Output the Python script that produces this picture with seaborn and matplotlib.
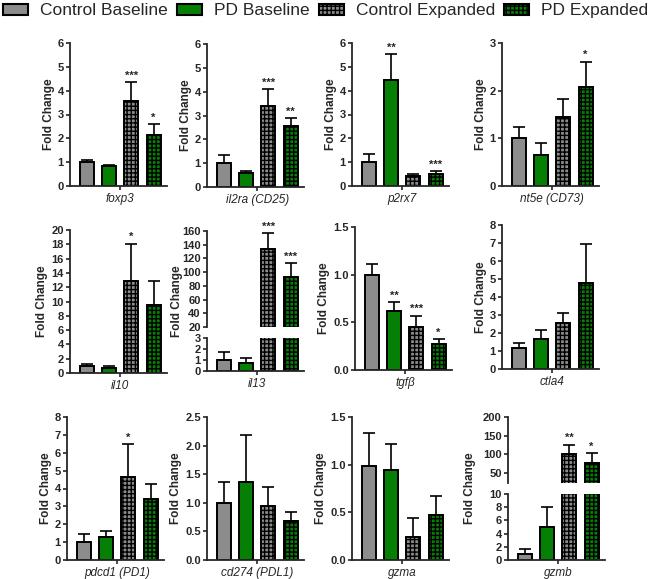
import matplotlib
matplotlib.use('Agg')
import matplotlib.pyplot as plt
from matplotlib.patches import Patch
from matplotlib.ticker import FormatStrFormatter
import numpy as np
import pandas as pd
import seaborn as sns

# groups and colours
groups = ['Control Baseline', 'PD Baseline', 'Control Expanded', 'PD Expanded']
colors = ['#8c8c8c', '#058005', '#8c8c8c', '#058005']
hatches = ['', '', '++++', '++++']

# fold change (mean), upper error (SEM) and significance per gene
foxp3 = [1.0, 0.82, 3.57, 2.12]
foxp3_err = [0.1, 0.08, 0.78, 0.48]
foxp3_sig = ['', '', '***', '*']

il2ra = [0.99, 0.6, 3.41, 2.54]
il2ra_err = [0.37, 0.07, 0.69, 0.35]
il2ra_sig = ['', '', '***', '**']

p2rx7 = [0.99, 4.43, 0.41, 0.51]
p2rx7_err = [0.37, 1.11, 0.11, 0.11]
p2rx7_sig = ['', '**', '', '***']

nt5e = [1.0, 0.66, 1.44, 2.07]
nt5e_err = [0.24, 0.25, 0.39, 0.54]
nt5e_sig = ['', '', '', '*']

il10 = [0.93, 0.75, 12.85, 9.5]
il10_err = [0.37, 0.23, 5.25, 3.35]
il10_sig = ['', '', '*', '']

il13 = [0.96, 0.77, 134.4, 93.4]
il13_err = [0.74, 0.38, 22.6, 19.3]
il13_sig = ['', '', '***', '***']

tgfb = [1.0, 0.62, 0.45, 0.27]
tgfb_err = [0.11, 0.09, 0.12, 0.05]
tgfb_sig = ['', '**', '***', '*']

ctla4 = [1.15, 1.67, 2.57, 4.8]
ctla4_err = [0.28, 0.5, 0.52, 2.14]
ctla4_sig = ['', '', '', '']

pdcd1 = [0.99, 1.28, 4.65, 3.42]
pdcd1_err = [0.44, 0.36, 1.84, 0.82]
pdcd1_sig = ['', '', '*', '']

cd274 = [0.99, 1.37, 0.95, 0.69]
cd274_err = [0.37, 0.82, 0.32, 0.15]
cd274_sig = ['', '', '', '']

gzma = [0.99, 0.94, 0.24, 0.47]
gzma_err = [0.34, 0.28, 0.2, 0.2]
gzma_sig = ['', '', '', '']

gzmb = [0.9, 5.05, 100, 76.8]
gzmb_err = [0.7, 2.95, 26, 26.8]
gzmb_sig = ['', '', '**', '*']

sns.set_style('ticks')
plt.rcParams['font.family'] = ['Liberation Sans', 'DejaVu Sans']
plt.rcParams['font.weight'] = 'bold'
plt.rcParams['axes.labelweight'] = 'bold'
plt.rcParams['hatch.linewidth'] = 1.0
plt.rcParams['axes.linewidth'] = 1.3

W, H = 656, 579
fig = plt.figure(figsize=(W / 100, H / 100), dpi=100)


def make_ax(left, top, bottom, width=97):
    return fig.add_axes([left / W, 1 - bottom / H, width / W, (bottom - top) / H])


def draw_bars(ax, means, errs, sig, stars=True):
    df = pd.DataFrame({'group': groups, 'value': means})
    sns.barplot(data=df, x='group', y='value', hue='group', order=groups, hue_order=groups,
                palette=colors, saturation=1, width=0.62, edgecolor='black',
                linewidth=1.4, errorbar=None, legend=False, ax=ax)
    for p in ax.patches:
        i = int(round(p.get_x() + p.get_width() / 2))
        p.set_hatch(hatches[i])
    ax.errorbar(range(4), means, yerr=[np.zeros(4), errs], fmt='none', ecolor='black',
                elinewidth=1.2, capsize=4, capthick=1.2, zorder=1)
    if stars:
        for i in range(4):
            if sig[i]:
                ax.annotate(sig[i], (i, means[i] + errs[i]), xytext=(0, 1),
                            textcoords='offset points', ha='center', va='bottom',
                            fontsize=8, fontweight='bold', annotation_clip=False)
    ax.set_xlim(-0.75, 3.6)
    ax.set_ylabel('')
    ax.set_xlabel('')
    sns.despine(ax=ax)
    ax.tick_params(axis='y', labelsize=8, width=1.2, length=3, pad=1.5)
    ax.tick_params(axis='x', width=1.2, length=3, pad=2)


def finish_x(ax, gene):
    ax.set_xticks([1.5])
    ax.set_xticklabels([gene], fontstyle='italic', fontweight='normal', fontsize=8.5)


def panel(left, top, bottom, gene, means, errs, sig, ymax, step, fmt=None, width=97):
    ax = make_ax(left, top, bottom, width)
    draw_bars(ax, means, errs, sig)
    ax.set_ylim(0, ymax)
    ax.set_yticks(np.arange(0, ymax + step / 2, step))
    if fmt:
        ax.yaxis.set_major_formatter(FormatStrFormatter(fmt))
    finish_x(ax, gene)
    ax.set_ylabel('Fold Change', fontsize=8.5, labelpad=2)
    return ax


def broken_panel(left, top, mid_hi, mid_lo, bottom, gene, means, errs, sig,
                 upper_lim, upper_ticks, lower_lim, lower_ticks, label_x, label_y):
    up = make_ax(left, top, mid_hi)
    draw_bars(up, means, errs, sig)
    up.set_ylim(*upper_lim)
    up.set_yticks(upper_ticks)
    up.spines['bottom'].set_visible(False)
    up.set_xticks([])
    up.set_ylabel('Fold Change', fontsize=8.5)
    up.yaxis.set_label_coords(label_x, label_y)
    lo = make_ax(left, mid_lo, bottom)
    draw_bars(lo, means, errs, sig, stars=False)
    lo.set_ylim(*lower_lim)
    lo.set_yticks(lower_ticks)
    finish_x(lo, gene)


# row 1
panel(70, 43, 186, 'foxp3', foxp3, foxp3_err, foxp3_sig, 6, 1)
panel(207, 44, 187, 'il2ra (CD25)', il2ra, il2ra_err, il2ra_sig, 6, 1)
panel(352, 43, 186, 'p2rx7', p2rx7, p2rx7_err, p2rx7_sig, 6, 1)
panel(502, 43, 186, 'nt5e (CD73)', nt5e, nt5e_err, nt5e_sig, 3, 1)

# row 2
panel(70, 230, 373, 'il10', il10, il10_err, il10_sig, 20, 2)
broken_panel(207, 231, 327, 338, 371, 'il13', il13, il13_err, il13_sig,
             (20, 160), np.arange(20, 161, 20), (0, 3), [0, 1, 2, 3], -0.25, 0.27)
panel(355, 227, 370, 'tgfβ', tgfb, tgfb_err, tgfb_sig, 1.5, 0.5, fmt='%.1f')
panel(502, 225, 369, 'ctla4', ctla4, ctla4_err, ctla4_sig, 8, 1)

# row 3
panel(67, 417, 560, 'pdcd1 (PD1)', pdcd1, pdcd1_err, pdcd1_sig, 8, 1)
panel(207, 417, 560, 'cd274 (PDL1)', cd274, cd274_err, cd274_sig, 2.5, 0.5, fmt='%.1f')
panel(352, 417, 560, 'gzma', gzma, gzma_err, gzma_sig, 1.5, 0.5, fmt='%.1f')
broken_panel(508, 417, 483, 494, 560, 'gzmb', gzmb, gzmb_err, gzmb_sig,
             (23, 200), [50, 100, 150, 200], (0, 10), np.arange(0, 11, 2), -0.33, -0.083)

# legend across the top
handles = [Patch(facecolor=c, edgecolor='black', linewidth=1.5, hatch=h)
           for c, h in zip(colors, hatches)]
fig.legend(handles, groups, ncol=4, loc='upper left', bbox_to_anchor=(0.0, 1.0),
           frameon=False, prop={'size': 12.5, 'weight': 'normal'},
           handlelength=1.44, handleheight=0.63, handletextpad=0.69,
           columnspacing=0.52, borderaxespad=0.1, borderpad=0.1)

fig.savefig('out.png', dpi=100)
